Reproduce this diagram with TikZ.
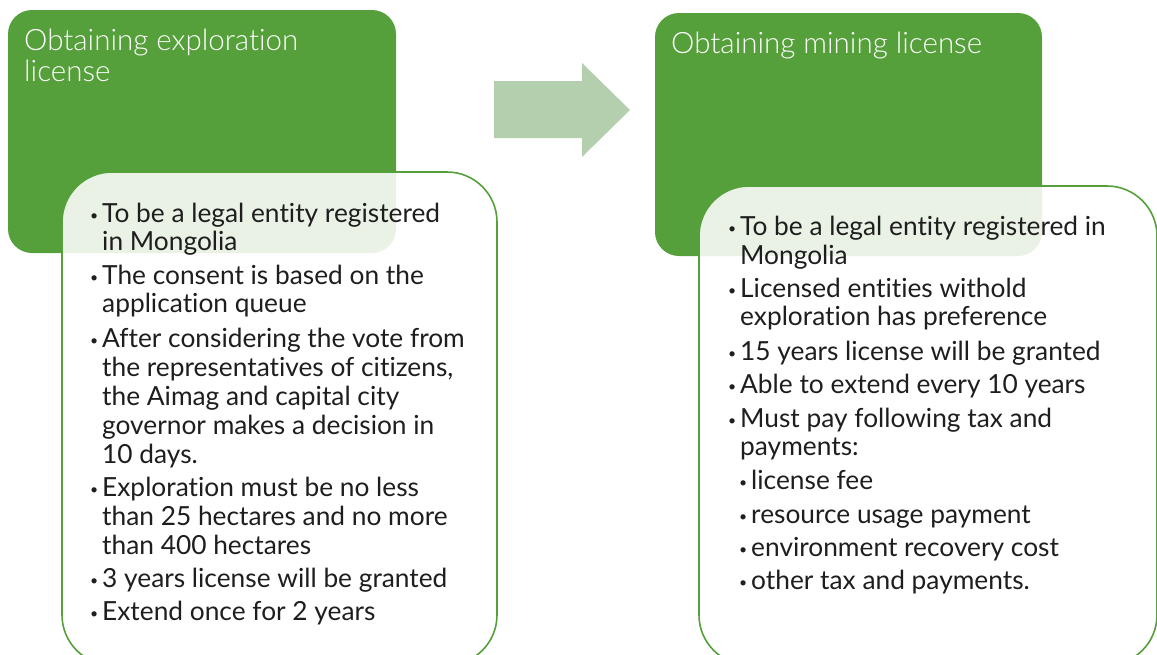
\documentclass[tikz,border=0pt]{standalone}
\usepackage{fontspec}
\setmainfont{Lato}[Ligatures=NoCommon]
\newfontfamily\titlefont{Lato Light}[Ligatures=NoCommon]
\definecolor{leaf}{HTML}{56A03C}
\definecolor{sage}{HTML}{B3CFAE}
\definecolor{ink}{HTML}{1E1E1E}
\newcommand{\bul}{\llap{\raisebox{1.5pt}{\fontsize{14}{14}\selectfont\textbullet}\hspace{4pt}}}
\tikzset{
  headbox/.style={fill=leaf, rounded corners=24pt},
  listbox/.style={draw=leaf, line width=1.6pt, fill=white, fill opacity=.87, rounded corners=50pt},
  title/.style={anchor=base west, inner sep=0pt, text=white, font=\titlefont\fontsize{29.5}{31}\selectfont},
  body/.style={anchor=base west, inner sep=0pt, text=ink, font=\fontsize{26.3}{29}\selectfont}
}
\begin{document}
\begin{tikzpicture}[x=1pt, y=-1pt]
\useasboundingbox (0,0) rectangle (1157,654);
% green heads
\fill [headbox] (8,10) rectangle (396,253);
\fill [headbox] (655,13) rectangle (1042,256);
% list panels
\draw [listbox] (62,172) rectangle (497,665);
\draw [listbox] (699,186) rectangle (1157,665);
% arrow between the two steps
\fill [sage] (494,81)--(582,81)--(582,63)--(630,110)--(582,157)--(582,138)--(494,138)--cycle;
% titles
\node [title] (t1a) at (24,50) {Obtaining exploration};
\node [title] (t1b) at (24,81) {license};
\node [title] (t2) at (671,53) {Obtaining mining license};
% exploration list
\node [body] (e1) at (102,222) {\bul To be a legal entity registered};
\node [body] (e2) at (102,250) {in Mongolia};
\node [body] (e3) at (102,284) {\bul The consent is based on the};
\node [body] (e4) at (102,312) {application queue};
\node [body] (e5) at (102,347) {\bul After considering the vote from};
\node [body] (e6) at (102,376) {the representatives of citizens,};
\node [body] (e7) at (102,405) {the Aimag and capital city};
\node [body] (e8) at (102,434) {governor makes a decision in};
\node [body] (e9) at (102,463) {10 days.};
\node [body] (e10) at (102,496) {\bul Exploration must be no less};
\node [body] (e11) at (102,525) {than 25 hectares and no more};
\node [body] (e12) at (102,554) {than 400 hectares};
\node [body] (e13) at (102,587) {\bul 3 years license will be granted};
\node [body] (e14) at (102,620) {\bul Extend once for 2 years};
% mining list
\node [body] (m1) at (740,235) {\bul To be a legal entity registered in};
\node [body] (m2) at (740,264) {Mongolia};
\node [body] (m3) at (740,297) {\bul Licensed entities withold};
\node [body] (m4) at (740,325) {exploration has preference};
\node [body] (m5) at (740,360) {\bul 15 years license will be granted};
\node [body] (m6) at (740,393) {\bul Able to extend every 10 years};
\node [body] (m7) at (740,427) {\bul Must pay following tax and};
\node [body] (m8) at (740,455) {payments:};
\node [body] (m9) at (751,489) {\bul license fee};
\node [body] (m10) at (751,523) {\bul resource usage payment};
\node [body] (m11) at (751,556) {\bul environment recovery cost};
\node [body] (m12) at (751,589) {\bul other tax and payments.};
\end{tikzpicture}
\end{document}
